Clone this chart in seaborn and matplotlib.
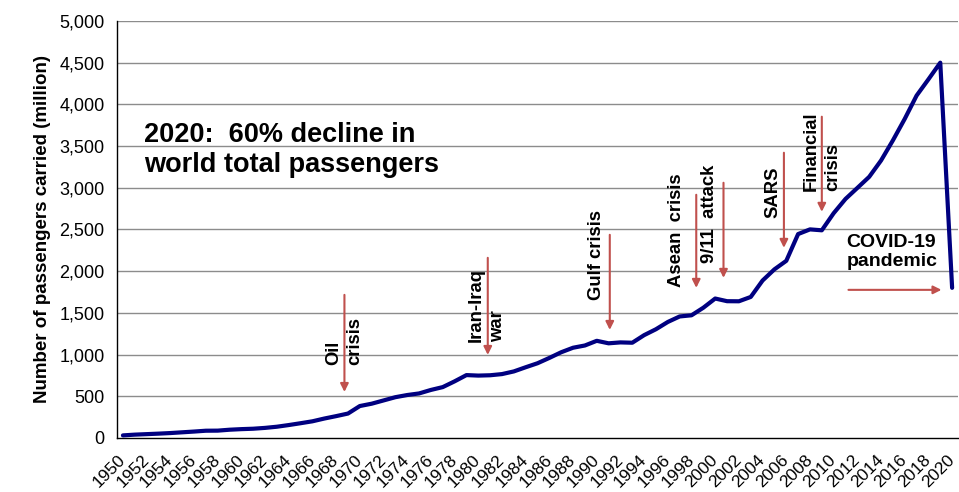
import matplotlib
matplotlib.use("Agg")
import matplotlib.pyplot as plt
import seaborn as sns
import pandas as pd
import numpy as np

years = list(range(1950, 2021))
passengers = [31, 40, 46, 52, 59, 68, 77, 87, 88, 99,
              106, 111, 121, 135, 155, 177, 200, 233, 262, 293,
              383, 411, 450, 489, 515, 534, 576, 610, 679, 754,
              748, 752, 766, 798, 848, 896, 960, 1028, 1082, 1109,
              1165, 1135, 1146, 1142, 1233, 1304, 1391, 1457, 1471, 1562,
              1672, 1640, 1639, 1691, 1888, 2022, 2124, 2445, 2501, 2490,
              2695, 2866, 2998, 3131, 3327, 3568, 3826, 4105, 4300, 4500,
              1800]

# events: label, arrow x (year), arrow top / bottom values, text centre x, text bottom value
event_labels = ["Oil\ncrisis", "Iran-Iraq\nwar", "Gulf crisis", "Asean  crisis",
                "9/11  attack", "SARS", "Financial\ncrisis"]
event_years = [1968.7, 1980.8, 1991.1, 1998.4, 2000.7, 2005.8, 2009.0]
event_top = [1716, 2160, 2436, 2916, 3060, 3420, 3852]
event_bottom = [552, 996, 1296, 1800, 1920, 2280, 2712]
event_text_x = [1968.7, 1980.75, 1990.0, 1996.75, 1999.5, 2004.9, 2009.0]
event_text_bottom = [876, 1152, 1656, 1812, 2100, 2640, 2964]

sns.set_theme(style="white")
plt.rcParams['font.family'] = ['Liberation Sans', 'DejaVu Sans']
for k in ["text.color", "axes.labelcolor", "xtick.color", "ytick.color"]:
    plt.rcParams[k] = "black"

df = pd.DataFrame({"year": years, "passengers": passengers})

fig = plt.figure(figsize=(9.59, 4.92), dpi=100)
ax = fig.add_axes([0.122, 0.1098, 0.877, 0.8476])

for v in range(500, 5001, 500):
    ax.axhline(v, color="#8c8c8c", lw=1.0, zorder=0)

sns.lineplot(data=df, x="year", y="passengers", ax=ax, color="#000080",
             lw=3, zorder=3)

ax.set_xlim(1949.5, 2020.5)
ax.set_ylim(0, 5000)
ax.set_yticks(range(0, 5001, 500))
ax.set_yticklabels([f"{v:,}" for v in range(0, 5001, 500)], fontsize=13)
ax.set_xticks(years[::2])
ax.set_xticklabels([str(y) for y in years[::2]], rotation=45, ha="right",
                   va="center", rotation_mode="anchor", fontsize=12.5)
ax.set_xticks(np.arange(1949.5, 2021, 1.0), minor=True)
ax.tick_params(axis="x", which="major", length=0, pad=14)
ax.tick_params(axis="x", which="minor", length=5, width=1, color="black", direction="out")
ax.tick_params(axis="y", length=5, width=1, color="black", direction="out", pad=4)
ax.set_xlabel("")
ax.set_ylabel("Number of passengers carried (million)", fontsize=13.5,
              fontweight="bold", labelpad=6)

for s in ["top", "right"]:
    ax.spines[s].set_visible(False)
for s in ["left", "bottom"]:
    ax.spines[s].set_color("black")
    ax.spines[s].set_linewidth(1)

arrow_color = "#c0504d"
for lab, x, top, bot, tx, tb in zip(event_labels, event_years, event_top, event_bottom,
                                    event_text_x, event_text_bottom):
    ax.annotate("", xy=(x, bot), xytext=(x, top),
                arrowprops=dict(arrowstyle="-|>", color=arrow_color, lw=1.5,
                                mutation_scale=12, shrinkA=0, shrinkB=0), zorder=4)
    ax.text(tx, tb, lab, rotation=90, ha="center", va="bottom",
            multialignment="left", fontsize=13.3, fontweight="bold",
            linespacing=1.35, zorder=5)

ax.text(2011.1, 2232, "COVID-19\npandemic", ha="left", va="center",
        fontsize=14, fontweight="bold", linespacing=1.15)
ax.annotate("", xy=(2019.1, 1776), xytext=(2011.25, 1776),
            arrowprops=dict(arrowstyle="-|>", color=arrow_color, lw=1.5,
                            mutation_scale=12, shrinkA=0, shrinkB=0))

ax.text(1951.8, 3456, "2020:  60% decline in\nworld total passengers", ha="left",
        va="center", fontsize=19.5, fontweight="bold", linespacing=1.2)

fig.savefig("out.png", dpi=100)
